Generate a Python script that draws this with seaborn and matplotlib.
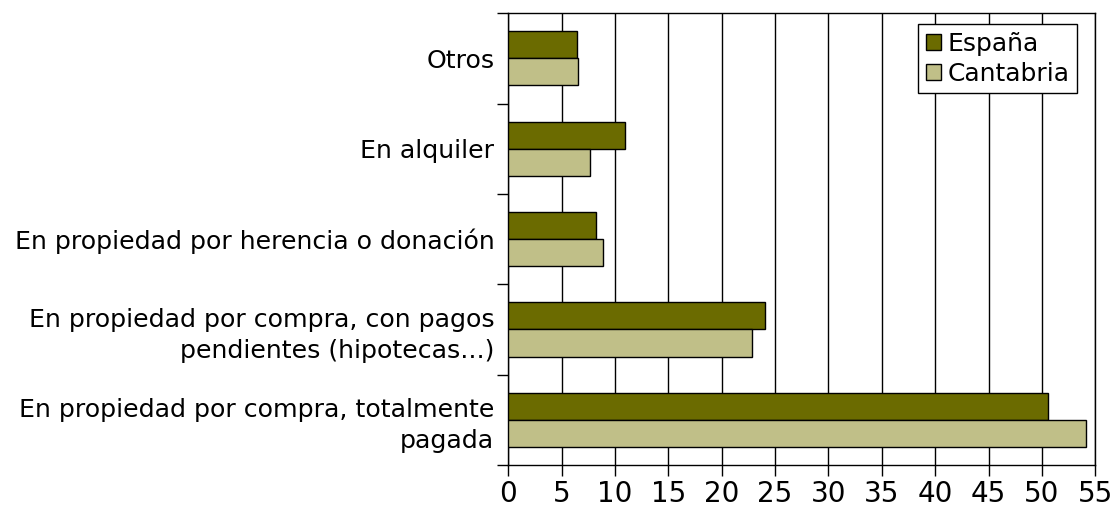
import matplotlib
matplotlib.use("Agg")
import matplotlib.pyplot as plt
import seaborn as sns
import pandas as pd
import numpy as np

# Data (percentages)
categories = [
    "Otros",
    "En alquiler",
    "En propiedad por herencia o donación",
    "En propiedad por compra, con pagos\npendientes (hipotecas...)",
    "En propiedad por compra, totalmente\npagada",
]
espana = [6.4, 10.9, 8.2, 24.1, 50.6]
cantabria = [6.5, 7.7, 8.9, 22.8, 54.1]
series_names = ["España", "Cantabria"]
x_ticks = list(range(0, 60, 5))

df = pd.DataFrame({
    "categoria": categories * 2,
    "valor": espana + cantabria,
    "serie": [series_names[0]] * len(categories) + [series_names[1]] * len(categories),
})

sns.set_style("white")
plt.rcParams["font.family"] = ["DejaVu Sans"]
plt.rcParams["text.color"] = "black"
plt.rcParams["xtick.color"] = "black"
plt.rcParams["ytick.color"] = "black"
plt.rcParams["axes.labelcolor"] = "black"

fig = plt.figure(figsize=(11.12, 5.07), dpi=100)
ax = fig.add_axes([0.457, 0.083, 0.528, 0.891])

palette = {"España": "#6b6b00", "Cantabria": "#c0bf88"}
sns.barplot(data=df, y="categoria", x="valor", hue="serie", order=categories,
            hue_order=series_names, palette=palette, width=0.6, orient="h",
            edgecolor="black", linewidth=1, saturation=1, ax=ax, zorder=3)

# vertical grid lines
ax.set_xlim(0, 55)
ax.set_xticks(x_ticks)
ax.grid(axis="x", color="black", linewidth=1)
ax.grid(axis="y", visible=False)
ax.set_axisbelow(True)

ax.set_ylim(len(categories) - 0.5, -0.5)
ax.set_yticks(np.arange(len(categories)))
ax.set_yticklabels(categories, fontsize=18.2, linespacing=1.35)
ax.set_yticks(np.arange(-0.5, len(categories), 1), minor=True)
ax.tick_params(axis="y", which="major", left=True, length=0, pad=10)
ax.tick_params(axis="y", which="minor", left=True, length=8, width=1, color="black", direction="out")
ax.tick_params(axis="x", bottom=True, length=8, width=1, color="black", direction="out",
               labelsize=20, pad=3)

for s in ax.spines.values():
    s.set_color("black")
    s.set_linewidth(1)
    s.set_visible(True)

ax.set_xlabel("")
ax.set_ylabel("")

leg = ax.legend(loc="upper right", bbox_to_anchor=(0.969, 0.976), fontsize=18,
                frameon=True, fancybox=False, edgecolor="black", framealpha=1,
                handlelength=0.6, handleheight=0.6, handletextpad=0.28,
                borderpad=0.3, labelspacing=0.25, borderaxespad=0)
leg.get_frame().set_linewidth(1)

fig.savefig("out.png", dpi=100)
